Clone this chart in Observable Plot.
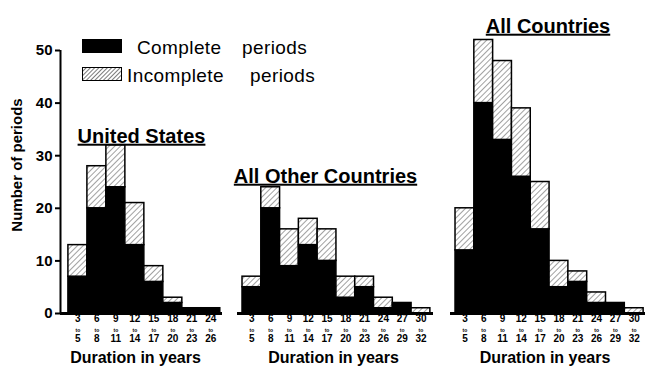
<!DOCTYPE html>
<html>
<head>
<meta charset="utf-8">
<script src="https://cdn.jsdelivr.net/npm/d3@7"></script>
<script src="https://cdn.jsdelivr.net/npm/@observablehq/plot@0.6"></script>
<style>
  html, body { margin: 0; padding: 0; background: white; }
  #chart { position: relative; width: 647px; height: 376px; overflow: hidden; font-family: "Liberation Sans", Arial, sans-serif; }
  #chart svg.plotsvg { position: absolute; left: 0; top: 0; }
  .lg { position: absolute; font-size: 19px; color: black; white-space: pre; line-height: 1; letter-spacing: 0.4px; }
  .sw { position: absolute; width: 40px; height: 14px; }
  #ylab { position: absolute; left: 16px; top: 165px; transform: translate(-50%, -50%) rotate(-90deg); font-size: 15px; font-weight: bold; white-space: nowrap; }
</style>
</head>
<body>
<svg width="0" height="0" style="position:absolute">
  <defs>
    <pattern id="hatch" patternUnits="userSpaceOnUse" width="4" height="4" patternTransform="rotate(45)">
      <rect width="4" height="4" fill="white"></rect>
      <line x1="0" y1="0" x2="0" y2="4" stroke="#444" stroke-width="1"></line>
    </pattern>
    <pattern id="hatch2" patternUnits="userSpaceOnUse" width="3" height="3" patternTransform="rotate(45)">
      <rect width="3" height="3" fill="white"></rect>
      <line x1="0" y1="0" x2="0" y2="3" stroke="#222" stroke-width="1.2"></line>
    </pattern>
  </defs>
</svg>
<div id="chart">
  <div class="sw" style="left:82px;top:39px;background:black"></div>
  <svg class="sw" style="left:82px;top:67px" width="40" height="14"><rect x="0.5" y="0.5" width="39" height="13" fill="url(#hatch2)" stroke="black"></rect></svg>
  <div class="lg" style="left:137px;top:38px">Complete</div>
  <div class="lg" style="left:242px;top:38px">periods</div>
  <div class="lg" style="left:127px;top:66px">Incomplete</div>
  <div class="lg" style="left:250px;top:66px">periods</div>
  <div id="ylab">Number of periods</div>
</div>
<script>
// Duration classes (years)
const binStarts = [3, 6, 9, 12, 15, 18, 21, 24, 27, 30];
const binEnds   = [5, 8, 11, 14, 17, 20, 23, 26, 29, 32];

// United States (8 classes)
const usComplete   = [7, 20, 24, 13, 6, 2, 1, 1];
const usIncomplete = [6, 8, 8, 8, 3, 1, 0, 0];

// All other countries (10 classes)
const otherComplete   = [5, 20, 9, 13, 10, 3, 5, 1, 2, 0];
const otherIncomplete = [2, 4, 7, 5, 6, 4, 2, 2, 0, 1];

// All countries (10 classes)
const allComplete   = [12, 40, 33, 26, 16, 5, 6, 2, 2, 0];
const allIncomplete = [8, 12, 15, 13, 9, 5, 2, 2, 0, 1];

const yTicks = [0, 10, 20, 30, 40, 50];
const types = ["Complete", "Incomplete"];
const xLabel = "Duration in years";

const FONT = "'Liberation Sans', Arial, sans-serif";

function panel({complete, incomplete, title, titleDx, titleDy, labelDx, marginLeft, marginRight, domain, yAxis}) {
  const n = complete.length;
  const starts = binStarts.slice(0, n);
  const ends = binEnds.slice(0, n);
  const rows = [];
  starts.forEach((s, i) => {
    const c = complete[i], inc = incomplete[i];
    if (c > 0) rows.push({s, e: ends[i] + 1, type: "Complete", y1: 0, y2: c});
    if (inc > 0) rows.push({s, e: ends[i] + 1, type: "Incomplete", y1: c, y2: c + inc});
  });
  const centers = starts.map((s, i) => (s + ends[i] + 1) / 2);
  const marks = [
    Plot.rect(rows, {x1: "s", x2: "e", y1: "y1", y2: "y2", fill: "type", stroke: "black", strokeWidth: 1.5}),
    Plot.ruleY([0], {stroke: "black", strokeWidth: 3}),
    Plot.text(starts, {x: (d, i) => centers[i], text: d => String(d), frameAnchor: "bottom", dy: 8, fontSize: 10, fontWeight: "bold"}),
    Plot.text(starts, {x: (d, i) => centers[i], text: () => "to", frameAnchor: "bottom", dy: 18, fontSize: 5, fontWeight: "bold"}),
    Plot.text(ends, {x: (d, i) => centers[i], text: d => String(d), frameAnchor: "bottom", dy: 28, fontSize: 10, fontWeight: "bold"}),
    Plot.text([xLabel], {frameAnchor: "bottom", dx: labelDx, dy: 49, fontSize: 16, fontWeight: "bold"}),
    Plot.text([title], {frameAnchor: "top", dx: titleDx, dy: titleDy, fontSize: 20, fontWeight: "bold"})
  ];
  if (yAxis) {
    marks.push(Plot.ruleX([domain[0]], {y1: 0, y2: 50, stroke: "black", strokeWidth: 2}));
    marks.push(Plot.axisY({ticks: yTicks, tickSize: 5, tickPadding: 3, fontSize: 15, fontWeight: "bold", label: null, strokeWidth: 2}));
  }
  const svg = Plot.plot({
    width: 647, height: 376,
    marginTop: 50, marginBottom: 63, marginLeft, marginRight,
    style: {background: "transparent", fontFamily: FONT, color: "black", overflow: "visible"},
    x: {type: "linear", domain, axis: null},
    y: {domain: [0, 50], axis: yAxis ? undefined : null},
    color: {type: "ordinal", domain: types, range: ["black", "url(#hatch)"]},
    marks
  });
  svg.classList.add("plotsvg");
  svg.querySelectorAll("text").forEach(t => {
    if (t.textContent === title) t.style.textDecoration = "underline";
  });
  return svg;
}

const chart = document.getElementById("chart");
chart.prepend(panel({complete: allComplete, incomplete: allIncomplete, title: "All Countries",
  titleDx: 0, titleDy: -32, labelDx: -3, marginLeft: 450, marginRight: 2, domain: [2.2, 33.3], yAxis: false}));
chart.prepend(panel({complete: otherComplete, incomplete: otherIncomplete, title: "All Other Countries",
  titleDx: -10, titleDy: 118, labelDx: -2, marginLeft: 237, marginRight: 214, domain: [2.2, 33.5], yAxis: false}));
chart.prepend(panel({complete: usComplete, incomplete: usIncomplete, title: "United States",
  titleDx: 0, titleDy: 78, labelDx: -6, marginLeft: 60, marginRight: 425, domain: [1.75, 27.35], yAxis: true}));
</script>
</body>
</html>
